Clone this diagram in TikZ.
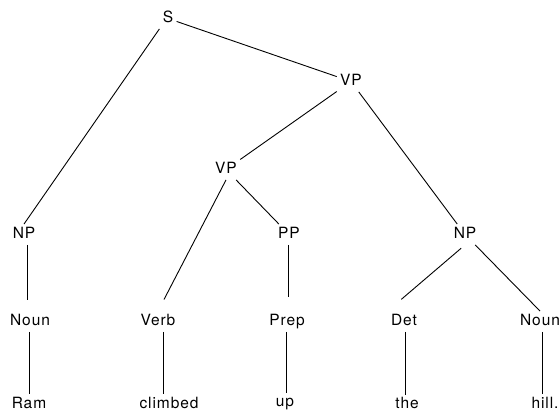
\documentclass[tikz,border=0pt]{standalone}
\usepackage{fontspec}
\setmainfont{TeX Gyre Heros}[LetterSpace=6]
\usetikzlibrary{calc}
\newcommand\vedge[3][]{\draw[#1] let \p1=($(#2.south)!.5!(#3.north)$), \p2=(#2.south), \p3=(#3.north) in (\x1,\y2) -- (\x1,\y3);}
\begin{document}
\begin{tikzpicture}[x=1pt,y=-1pt,
  tx/.style={anchor=base, font=\fontsize{15.5}{18}\selectfont, text height=11pt, text depth=3pt, inner xsep=3pt, inner ysep=3pt},
  every path/.style={line width=0.9pt},
  intorow/.style={shorten >=13pt}]
\useasboundingbox (0,0) rectangle (560,411);
% nodes
\node[tx] (S)   at (168,22.5) {S};
\node[tx] (VP1) at (351,85.5) {VP};
\node[tx] (VP2) at (226,173.5) {VP};
\node[tx] (NP1) at (24,238.5) {NP};
\node[tx] (PP)  at (289,238.5) {PP};
\node[tx] (NP2) at (465,238.5) {NP};
\node[tx] (N1)  at (30,325.5) {Noun};
\node[tx] (V)   at (158,325.5) {Verb};
\node[tx] (P)   at (287,325.5) {Prep};
\node[tx] (D)   at (404,325.5) {Det};
\node[tx] (N2)  at (540,325.5) {Noun};
\node[tx] (w1)  at (29,408.5) {Ram};
\node[tx] (w2)  at (169,408.5) {climbed};
\node[tx] (w3)  at (285,407) {up};
\node[tx] (w4)  at (407,409) {the};
\node[tx] (w5)  at (545,408.5) {hill.};
% connectors
\draw (S.south west) -- (NP1.north);
\draw (S) -- (VP1);
\draw (VP1) -- (VP2);
\draw (VP1) -- (NP2);
\draw[intorow] (VP2.south) -- (V.north);
\draw (VP2) -- (PP);
\draw[shorten >=18pt, shorten <=5pt] (NP2.south) -- (D.north west);
\draw (NP2) -- (N2.north);
\vedge[shorten >=11pt]{NP1}{N1}
\vedge[shorten >=14pt]{PP}{P}
\vedge{N1}{w1}
\vedge{V}{w2}
\vedge{P}{w3}
\vedge{D}{w4}
\vedge{N2}{w5}
\end{tikzpicture}
\end{document}
